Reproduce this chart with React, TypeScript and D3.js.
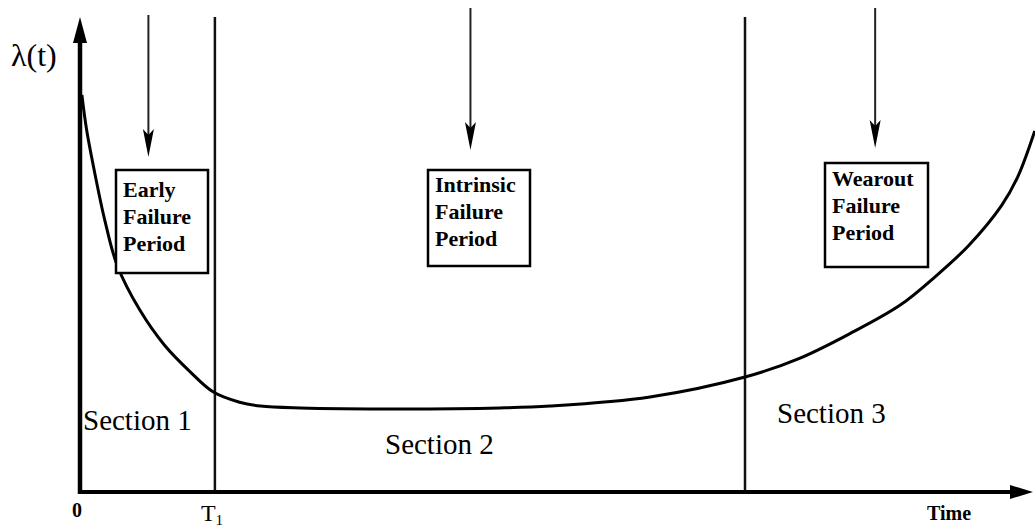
import React, { useEffect, useRef } from 'react';
import * as d3 from 'd3';

// bathtub curve (time 0..100, rate 0..100)
const curveTime = [0.2, 0.7, 1.6, 2.6, 3.9, 6.3, 8.9, 11.6, 14.0, 16.8, 19.0, 23.2, 33.7, 44.2, 49.5, 60.0, 70.0, 75.8, 81.0, 86.3, 90.0, 93.5, 97.0, 98.7, 100.5];
const curveRate = [83.6, 76.2, 66.7, 57.3, 47.8, 38.3, 30.9, 25.3, 21.1, 18.9, 18.1, 17.7, 17.5, 17.7, 18.1, 20.0, 24.2, 28.2, 33.3, 39.3, 45.3, 51.8, 60.3, 66.3, 76.0];

const boundaries = [14.2, 70];
const periodNames = ['Early', 'Intrinsic', 'Wearout'];
const periodArrowAt = [7.2, 41.1, 83.7];
const sectionNames = ['Section 1', 'Section 2', 'Section 3'];

const SERIF = "'Liberation Serif', 'Times New Roman', 'DejaVu Serif', serif";

export default function App() {
  const ref = useRef<SVGSVGElement>(null);

  useEffect(() => {
    const svg = d3.select(ref.current);
    svg.selectAll('*').remove();

    const left = 80;
    const right = 1030;
    const top = 17;
    const bottom = 492;

    const x = d3.scaleLinear().domain([0, 100]).range([left, right]);
    const y = d3.scaleLinear().domain([0, 100]).range([bottom, top]);

    // boundary lines
    svg
      .selectAll('line.bound')
      .data(boundaries)
      .enter()
      .append('line')
      .attr('class', 'bound')
      .attr('x1', d => x(d))
      .attr('x2', d => x(d))
      .attr('y1', y(100))
      .attr('y2', bottom)
      .attr('stroke', '#111')
      .attr('stroke-width', 2.5);

    // curve
    const pts = curveTime.map((t, i) => [t, curveRate[i]] as [number, number]);
    const line = d3
      .line<[number, number]>()
      .x(d => x(d[0]))
      .y(d => y(d[1]))
      .curve(d3.curveCatmullRom.alpha(0.5));
    svg
      .append('path')
      .attr('d', line(pts))
      .attr('fill', 'none')
      .attr('stroke', '#000')
      .attr('stroke-width', 3);

    // axes with arrowheads
    svg
      .append('line')
      .attr('x1', left)
      .attr('x2', left)
      .attr('y1', bottom + 2)
      .attr('y2', top + 20)
      .attr('stroke', '#000')
      .attr('stroke-width', 4.5);
    svg
      .append('path')
      .attr('d', `M${left},${top} L${left - 7},${top + 26} L${left + 7},${top + 26} Z`)
      .attr('fill', '#000');
    svg
      .append('line')
      .attr('x1', left - 2)
      .attr('x2', right - 18)
      .attr('y1', bottom)
      .attr('y2', bottom)
      .attr('stroke', '#000')
      .attr('stroke-width', 4);
    svg
      .append('path')
      .attr('d', `M${right + 3},${bottom} L${right - 20},${bottom - 7} L${right - 20},${bottom + 7} Z`)
      .attr('fill', '#000');

    // period arrows
    const tips = [157, 150, 148];
    periodArrowAt.forEach((t, i) => {
      const ax = x(t);
      svg
        .append('line')
        .attr('x1', ax)
        .attr('x2', ax)
        .attr('y1', i === 0 ? 15 : 8)
        .attr('y2', tips[i] - 20)
        .attr('stroke', '#222')
        .attr('stroke-width', 2);
      svg
        .append('path')
        .attr('d', `M${ax},${tips[i]} L${ax - 5.5},${tips[i] - 28} L${ax},${tips[i] - 22} L${ax + 5.5},${tips[i] - 28} Z`)
        .attr('fill', '#000');
    });

    // period boxes
    const boxes = [
      { x0: 116, y0: 170, w: 92, h: 103, first: 27 },
      { x0: 428, y0: 170, w: 102, h: 96, first: 22 },
      { x0: 825, y0: 163, w: 103, h: 104, first: 23 },
    ];
    boxes.forEach((b, i) => {
      svg
        .append('rect')
        .attr('x', b.x0)
        .attr('y', b.y0)
        .attr('width', b.w)
        .attr('height', b.h)
        .attr('fill', '#fff')
        .attr('stroke', '#000')
        .attr('stroke-width', 2.5);
      [periodNames[i], 'Failure', 'Period'].forEach((txt, j) => {
        svg
          .append('text')
          .attr('x', b.x0 + 7)
          .attr('y', b.y0 + b.first + j * 27)
          .attr('font-family', SERIF)
          .attr('font-weight', 'bold')
          .attr('font-size', 22)
          .attr('fill', '#000')
          .text(txt);
      });
    });

    // section labels
    const secPos = [
      [83, 430],
      [385, 454],
      [777, 423],
    ];
    sectionNames.forEach((s, i) => {
      svg
        .append('text')
        .attr('x', secPos[i][0])
        .attr('y', secPos[i][1])
        .attr('font-family', SERIF)
        .attr('font-size', 29)
        .attr('fill', '#000')
        .text(s);
    });

    // axis labels
    svg
      .append('text')
      .attr('x', 11)
      .attr('y', 66)
      .attr('font-family', SERIF)
      .attr('font-size', 32)
      .text('λ(t)');
    svg
      .append('text')
      .attr('x', x(0) - 3)
      .attr('y', 517)
      .attr('text-anchor', 'middle')
      .attr('font-family', SERIF)
      .attr('font-weight', 'bold')
      .attr('font-size', 20)
      .text('0');
    const t1 = svg
      .append('text')
      .attr('x', x(boundaries[0]) - 14)
      .attr('y', 521)
      .attr('font-family', SERIF)
      .attr('font-size', 24);
    t1.append('tspan').text('T');
    t1.append('tspan').attr('font-size', 15).attr('dy', 4).text('1');
    svg
      .append('text')
      .attr('x', 927)
      .attr('y', 520)
      .attr('font-family', SERIF)
      .attr('font-weight', 'bold')
      .attr('font-size', 20)
      .text('Time');
  }, []);

  return (
    <svg
      ref={ref}
      width={1035}
      height={530}
      style={{ position: 'absolute', left: 0, top: 0, background: '#fff' }}
    />
  );
}
